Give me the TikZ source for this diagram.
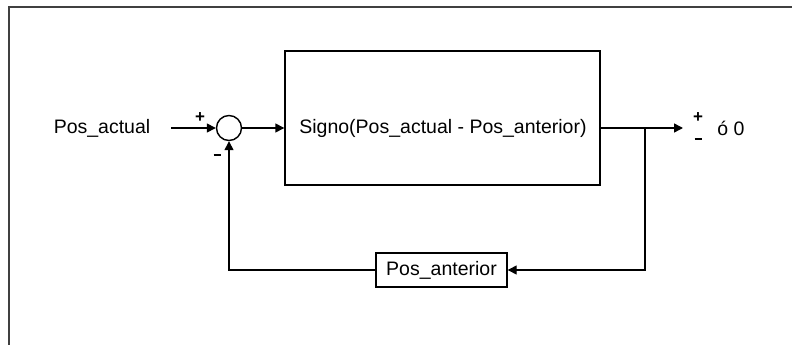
\documentclass[tikz,border=0pt]{standalone}
\usepackage{fontspec}
\setmainfont{Liberation Sans}
\usetikzlibrary{arrows.meta,positioning}
\definecolor{Ink}{HTML}{000000}
\definecolor{Frame}{HTML}{404040}

\tikzset{
  blk/.style={draw=Ink,line width=1.4pt,minimum width=#1,inner sep=0pt},
  sumnode/.style={draw=Ink,circle,line width=1.4pt,minimum size=25pt,inner sep=0pt},
  lbl/.style={font=\fontsize{19.5}{22}\selectfont,inner sep=0pt},
  sgn/.style={font=\fontsize{17}{18}\selectfont\bfseries,inner sep=0pt},
  sig/.style={draw=Ink,line width=1.4pt,-{Triangle[length=9pt,width=9pt]}},
  wire/.style={draw=Ink,line width=1.4pt}
}
\newcommand{\mns}{\rule[0.5ex]{7pt}{1.6pt}}

\begin{document}
\begin{tikzpicture}[x=1pt,y=-1pt]
  \useasboundingbox (0,0) rectangle (792,345);
  % outer frame, only top and left edges
  \draw[Frame,line width=1.5pt] (9,345) -- (9,7) -- (792,7);

  % forward path
  \node[lbl] (pa) at (102,128) {Pos\_actual};
  \coordinate (in) at (171,128);
  \node[sumnode] (sum) at (229,128) {};
  \node[blk=315pt,minimum height=134pt] (signo) at (442.5,118) {};
  \node[lbl] (signotxt) at (443,128) {Signo(Pos\_actual - Pos\_anterior)};
  \coordinate (br) at (645,128);
  \coordinate (out) at (683,128);

  % feedback block
  \node[blk=131pt,minimum height=34pt,lbl,draw] (prev) at (441.5,270) {Pos\_anterior};

  \path[sig] (in) -- (sum.west);
  \path[sig] (sum.east) -- (signo.west |- sum.east);
  \path[wire] (signo.east |- br) -- (br);
  \path[sig] (br) -- (out);
  \path[sig] (br) |- (prev.east);
  \path[sig] (prev.west) -| (sum.south);

  % signs at the summing junction and the output
  \node[sgn] (plusin) at (200,118) {+};
  \node[sgn] (minusin) at (217,157) {\mns};
  \node[sgn] (plusout) at (698,118) {+};
  \node[sgn] (minusout) at (698,141) {\mns};
  \node[lbl] (zero) at (731,128) {ó 0};
\end{tikzpicture}
\end{document}
